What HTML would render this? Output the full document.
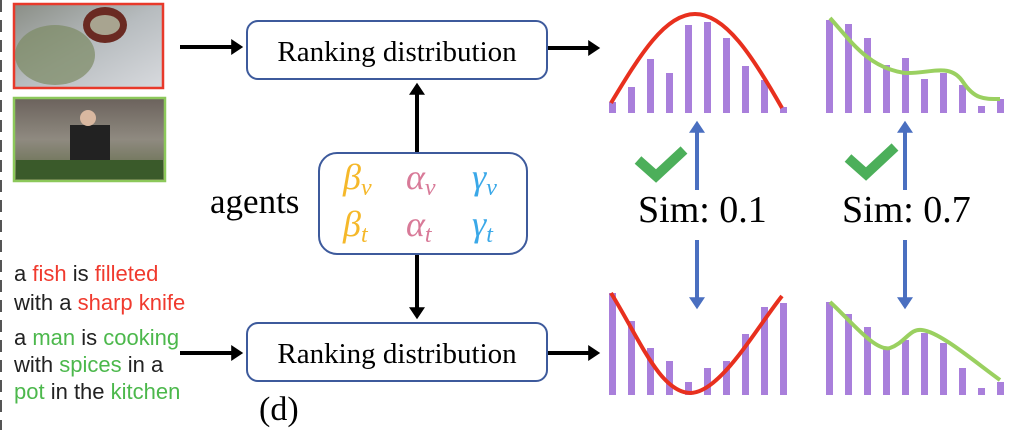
<!DOCTYPE html>
<html><head><style>
body{margin:0;background:#fff;}
svg{display:block;}
.t{font-family:"Liberation Serif",serif;}
.s{font-family:"Liberation Sans",sans-serif;font-size:22px;}
</style></head><body>
<svg width="1024" height="447" viewBox="0 0 1024 447" xmlns="http://www.w3.org/2000/svg">
<defs>
<marker id="ah" markerWidth="4" markerHeight="4" refX="2.2" refY="2" orient="auto" markerUnits="strokeWidth"><path d="M0,0 L3,2 L0,4 z" fill="#000"/></marker>
<marker id="bh" markerWidth="4" markerHeight="4" refX="2.2" refY="2" orient="auto" markerUnits="strokeWidth"><path d="M0,0 L3,2 L0,4 z" fill="#4a6fc0"/></marker>
<linearGradient id="g1" x1="0" y1="0" x2="1" y2="1"><stop offset="0" stop-color="#8a8e86"/><stop offset="0.5" stop-color="#b7bcbf"/><stop offset="1" stop-color="#d8dade"/></linearGradient>
<linearGradient id="g2" x1="0" y1="0" x2="0" y2="1"><stop offset="0" stop-color="#6b625c"/><stop offset="0.5" stop-color="#8f8a80"/><stop offset="1" stop-color="#5e6a44"/></linearGradient>
</defs>
<line x1="1" y1="0" x2="1" y2="430" stroke="#555" stroke-width="2" stroke-dasharray="12,8"/>
<rect x="14" y="4" width="149" height="84" fill="url(#g1)" stroke="#e8392a" stroke-width="2.5"/>
<ellipse cx="55" cy="55" rx="40" ry="30" fill="#7c8a64" opacity="0.7"/>
<ellipse cx="105" cy="25" rx="22" ry="18" fill="#6a2a22"/>
<ellipse cx="105" cy="25" rx="15" ry="10" fill="#a8a490"/>
<rect x="14" y="98" width="151" height="83" fill="url(#g2)" stroke="#8cc85a" stroke-width="2.5"/>
<rect x="70" y="125" width="40" height="40" fill="#222"/>
<circle cx="88" cy="118" r="8" fill="#d9b8a0"/>
<rect x="16" y="160" width="147" height="19" fill="#3a5a2a"/>
<text class="s" x="14" y="281" fill="#222">a <tspan fill="#f03a2e">fish</tspan> is <tspan fill="#f03a2e">filleted</tspan></text>
<text class="s" x="14" y="310" fill="#222">with a <tspan fill="#f03a2e">sharp knife</tspan></text>
<text class="s" x="14" y="345" fill="#222">a <tspan fill="#4cb84c">man</tspan> is <tspan fill="#4cb84c">cooking</tspan></text>
<text class="s" x="14" y="372" fill="#222">with <tspan fill="#4cb84c">spices</tspan> in a</text>
<text class="s" x="14" y="399" fill="#222"><tspan fill="#4cb84c">pot</tspan> in the <tspan fill="#4cb84c">kitchen</tspan></text>
<line x1="180" y1="47" x2="240" y2="47" stroke="#000" stroke-width="4" marker-end="url(#ah)"/>
<line x1="180" y1="353" x2="240" y2="353" stroke="#000" stroke-width="4" marker-end="url(#ah)"/>
<line x1="548" y1="48" x2="597" y2="48" stroke="#000" stroke-width="4" marker-end="url(#ah)"/>
<line x1="548" y1="353" x2="597" y2="353" stroke="#000" stroke-width="4" marker-end="url(#ah)"/>
<rect x="247" y="21" width="300" height="58" rx="11" fill="#fff" stroke="#3d5a9c" stroke-width="2"/>
<text class="t" x="397" y="61" font-size="29" text-anchor="middle">Ranking distribution</text>
<rect x="247" y="323" width="300" height="58" rx="11" fill="#fff" stroke="#3d5a9c" stroke-width="2"/>
<text class="t" x="397" y="363" font-size="29" text-anchor="middle">Ranking distribution</text>
<rect x="319" y="153" width="208" height="101" rx="18" fill="#fff" stroke="#3d5a9c" stroke-width="2"/>
<line x1="417" y1="152" x2="417" y2="86" stroke="#000" stroke-width="4" marker-end="url(#ah)"/>
<line x1="417" y1="255" x2="417" y2="316" stroke="#000" stroke-width="4" marker-end="url(#ah)"/>
<text class="t" x="210" y="213" font-size="35">agents</text>
<g class="t" font-size="36" font-style="italic">
<text x="343" y="189" fill="#f5b82a">β<tspan font-size="24" dy="6">v</tspan></text>
<text x="406" y="189" fill="#d87a98">α<tspan font-size="24" dy="6">v</tspan></text>
<text x="472" y="189" fill="#3aa8e8">γ<tspan font-size="24" dy="6">v</tspan></text>
<text x="343" y="236" fill="#f5b82a">β<tspan font-size="24" dy="6">t</tspan></text>
<text x="406" y="236" fill="#d87a98">α<tspan font-size="24" dy="6">t</tspan></text>
<text x="472" y="236" fill="#3aa8e8">γ<tspan font-size="24" dy="6">t</tspan></text>
</g>
<text class="t" x="259" y="420" font-size="34">(d)</text>
<g fill="#a97fdb">
<rect x="609" y="102" width="7" height="11"/><rect x="628" y="87" width="7" height="26"/><rect x="647" y="59" width="7" height="54"/><rect x="666" y="73" width="7" height="40"/><rect x="685" y="25" width="7" height="88"/><rect x="704" y="22" width="7" height="91"/><rect x="723" y="38" width="7" height="75"/><rect x="742" y="66" width="7" height="47"/><rect x="761" y="80" width="7" height="33"/><rect x="780" y="107" width="7" height="6"/>
<rect x="826" y="20" width="7" height="93"/><rect x="845" y="24" width="7" height="89"/><rect x="864" y="38" width="7" height="75"/><rect x="883" y="65" width="7" height="48"/><rect x="902" y="58" width="7" height="55"/><rect x="921" y="79" width="7" height="34"/><rect x="940" y="73" width="7" height="40"/><rect x="959" y="85" width="7" height="28"/><rect x="978" y="106" width="7" height="7"/><rect x="997" y="99" width="7" height="14"/>
<rect x="609" y="293" width="7" height="102"/><rect x="628" y="321" width="7" height="74"/><rect x="647" y="348" width="7" height="47"/><rect x="666" y="361" width="7" height="34"/><rect x="685" y="382" width="7" height="13"/><rect x="704" y="368" width="7" height="27"/><rect x="723" y="361" width="7" height="34"/><rect x="742" y="334" width="7" height="61"/><rect x="761" y="307" width="7" height="88"/><rect x="780" y="303" width="7" height="92"/>
<rect x="826" y="302" width="7" height="93"/><rect x="845" y="314" width="7" height="81"/><rect x="864" y="327" width="7" height="68"/><rect x="883" y="347" width="7" height="48"/><rect x="902" y="340" width="7" height="55"/><rect x="921" y="333" width="7" height="62"/><rect x="940" y="343" width="7" height="52"/><rect x="959" y="368" width="7" height="27"/><rect x="978" y="388" width="7" height="7"/><rect x="997" y="382" width="7" height="13"/>
</g>
<path d="M611,103 C640,55 665,14 695,14 C725,14 752,55 782,108" fill="none" stroke="#e8301e" stroke-width="4"/>
<path d="M830,18 C850,40 868,68 905,73 C930,74 950,62 963,82 C975,100 985,99 1000,99" fill="none" stroke="#9ad060" stroke-width="4"/>
<path d="M611,293 C640,340 660,392 690,393 C720,393 755,330 782,296" fill="none" stroke="#e8301e" stroke-width="4"/>
<path d="M830,302 C850,320 875,352 890,348 C905,343 910,328 922,330 C940,332 975,362 1000,380" fill="none" stroke="#9ad060" stroke-width="4"/>
<line x1="697" y1="190" x2="697" y2="124" stroke="#4a6fc0" stroke-width="4" marker-end="url(#bh)"/>
<line x1="697" y1="240" x2="697" y2="306" stroke="#4a6fc0" stroke-width="4" marker-end="url(#bh)"/>
<line x1="905" y1="190" x2="905" y2="124" stroke="#4a6fc0" stroke-width="4" marker-end="url(#bh)"/>
<line x1="905" y1="240" x2="905" y2="306" stroke="#4a6fc0" stroke-width="4" marker-end="url(#bh)"/>
<polyline points="638,160 656,176 684,150" fill="none" stroke="#4caf5a" stroke-width="10"/>
<polyline points="848,158 866,174 895,147" fill="none" stroke="#4caf5a" stroke-width="10"/>
<text class="t" x="638" y="222" font-size="38">Sim: 0.1</text>
<text class="t" x="842" y="222" font-size="38">Sim: 0.7</text>
</svg>
</body></html>
